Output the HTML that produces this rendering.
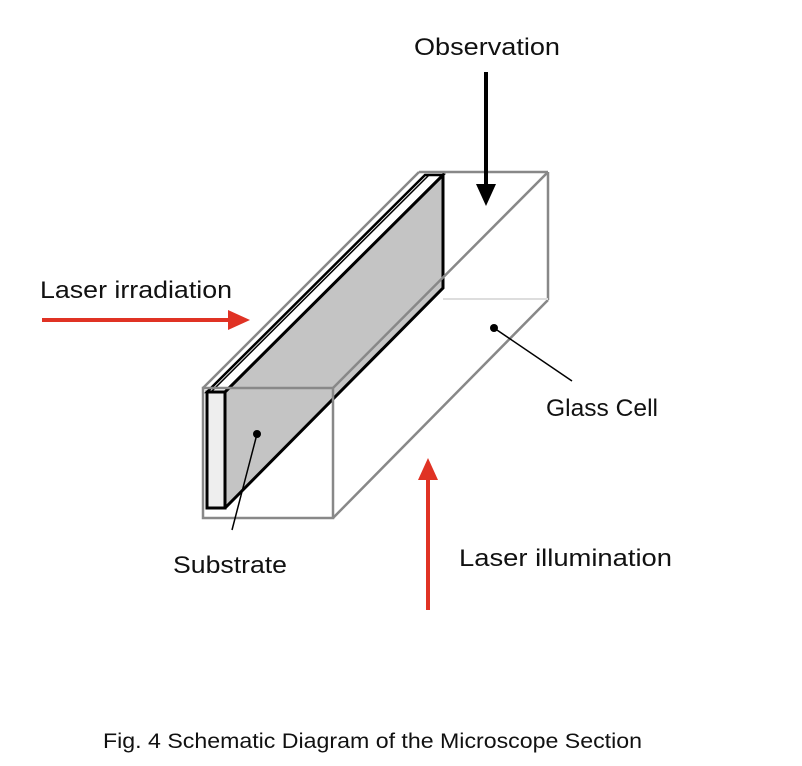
<!DOCTYPE html>
<html><head><style>
html,body{margin:0;padding:0;background:#fff;}
svg{display:block;}
text{font-family:"Liberation Sans",sans-serif;fill:#111;}
</style></head><body>
<svg width="802" height="766" viewBox="0 0 802 766" xmlns="http://www.w3.org/2000/svg">
<!-- substrate -->
<polygon points="225,392 443,175 443,288 225,508" fill="#c4c4c4"/>
<polygon points="207,392 425,175 443,175 225,392" fill="#fff" stroke="#000" stroke-width="2.5"/>
<rect x="207" y="392" width="18" height="116" fill="#eee" stroke="#000" stroke-width="3"/>
<polyline points="225,392 443,175 443,288 225,508" fill="none" stroke="#000" stroke-width="3"/>
<line x1="211" y1="392" x2="429" y2="175" stroke="#000" stroke-width="1.5"/>
<!-- glass cell -->
<g fill="none" stroke="#888" stroke-width="2.5">
<rect x="203" y="388" width="130" height="130"/>
<line x1="203" y1="388" x2="419" y2="172"/>
<line x1="419" y1="172" x2="548" y2="172"/>
<line x1="333" y1="388" x2="548" y2="172"/>
<line x1="548" y1="172" x2="548" y2="300"/>
<line x1="333" y1="518" x2="548" y2="300"/>
</g>
<line x1="443" y1="299" x2="548" y2="299" stroke="#ddd" stroke-width="2"/>
<!-- leaders -->
<circle cx="257" cy="434" r="4" fill="#000"/>
<line x1="257" y1="434" x2="232" y2="530" stroke="#000" stroke-width="1.5"/>
<circle cx="494" cy="328" r="4" fill="#000"/>
<line x1="494" y1="328" x2="572" y2="381" stroke="#000" stroke-width="1.5"/>
<!-- arrows -->
<line x1="486" y1="72" x2="486" y2="185" stroke="#000" stroke-width="4"/>
<polygon points="476,184 496,184 486,206" fill="#000"/>
<line x1="42" y1="320" x2="230" y2="320" stroke="#e03224" stroke-width="4"/>
<polygon points="228,310 228,330 250,320" fill="#e03224"/>
<line x1="428" y1="610" x2="428" y2="478" stroke="#e03224" stroke-width="4"/>
<polygon points="418,480 438,480 428,458" fill="#e03224"/>
<!-- labels -->
<text x="414" y="55" font-size="24" textLength="146" lengthAdjust="spacingAndGlyphs">Observation</text>
<text x="40" y="298" font-size="24" textLength="192" lengthAdjust="spacingAndGlyphs">Laser irradiation</text>
<text x="546" y="416" font-size="24" textLength="112" lengthAdjust="spacingAndGlyphs">Glass Cell</text>
<text x="173" y="573" font-size="24" textLength="114" lengthAdjust="spacingAndGlyphs">Substrate</text>
<text x="459" y="566" font-size="24" textLength="213" lengthAdjust="spacingAndGlyphs">Laser illumination</text>
<text x="103" y="748" font-size="21.5" textLength="539" lengthAdjust="spacingAndGlyphs">Fig. 4 Schematic Diagram of the Microscope Section</text>
</svg>
</body></html>
